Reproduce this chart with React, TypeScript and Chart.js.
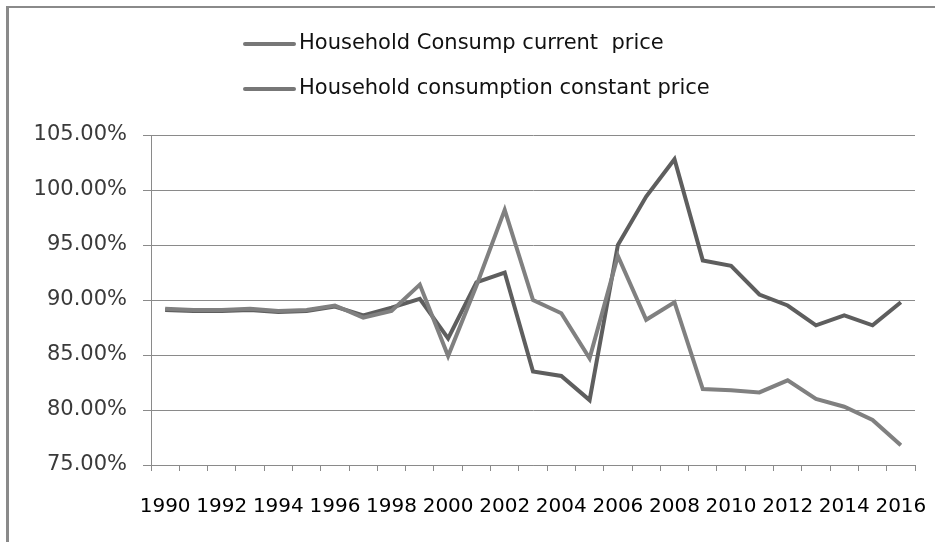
import React, { useEffect, useRef } from "react";
import { Chart, registerables } from "chart.js";

Chart.register(...registerables);

const years: string[] = [
  "1990", "1991", "1992", "1993", "1994", "1995", "1996", "1997", "1998", "1999",
  "2000", "2001", "2002", "2003", "2004", "2005", "2006", "2007", "2008", "2009",
  "2010", "2011", "2012", "2013", "2014", "2015", "2016",
];

const currentPrice: number[] = [
  89.2, 89.1, 89.1, 89.2, 89.0, 89.1, 89.5, 88.4, 89.0, 91.4,
  84.9, 91.3, 98.2, 90.0, 88.8, 84.7, 94.0, 88.2, 89.8, 81.9,
  81.8, 81.6, 82.7, 81.0, 80.3, 79.1, 76.8,
];

const constantPrice: number[] = [
  89.1, 89.0, 89.0, 89.1, 88.9, 89.0, 89.4, 88.6, 89.3, 90.1,
  86.5, 91.6, 92.5, 83.5, 83.1, 80.9, 95.0, 99.4, 102.8, 93.6,
  93.1, 90.5, 89.5, 87.7, 88.6, 87.7, 89.8,
];

const seriesLabels: string[] = [
  "Household Consump current  price",
  "Household consumption constant price",
];

const yTicks = { min: 75, max: 105, step: 5 };

const FONT = '"DejaVu Sans", "Liberation Sans", sans-serif';

const framePlugin = {
  id: "frame",
  beforeDraw(chart: any) {
    const { ctx, width, height } = chart;
    ctx.save();
    ctx.fillStyle = "#ffffff";
    ctx.fillRect(0, 0, width, height);
    ctx.fillStyle = "#8a8a8a";
    ctx.fillRect(6, 6, 3, height - 6);
    ctx.fillRect(6, 6, width - 6, 2);
    ctx.restore();
  },
};

const legendPlugin = {
  id: "stackedLegend",
  afterDraw(chart: any) {
    const ctx = chart.ctx;
    const rows = [44, 89];
    ctx.save();
    chart.data.datasets.forEach((ds: any, i: number) => {
      const y = rows[i];
      ctx.strokeStyle = "#777777";
      ctx.lineWidth = 4;
      ctx.lineCap = "round";
      ctx.beginPath();
      ctx.moveTo(245, y);
      ctx.lineTo(294, y);
      ctx.stroke();
      ctx.fillStyle = "#111111";
      ctx.font = `21px ${FONT}`;
      ctx.textBaseline = "middle";
      ctx.textAlign = "left";
      ctx.fillText(ds.label, 299, y);
    });
    ctx.restore();
  },
};

export default function App() {
  const ref = useRef<HTMLCanvasElement | null>(null);

  useEffect(() => {
    if (!ref.current) return;
    const chart = new Chart(ref.current, {
      type: "line",
      data: {
        labels: years,
        datasets: [
          {
            label: seriesLabels[0],
            data: currentPrice,
            borderColor: "#808080",
            borderWidth: 4,
            pointRadius: 0,
            tension: 0,
          },
          {
            label: seriesLabels[1],
            data: constantPrice,
            borderColor: "#5e5e5e",
            borderWidth: 4,
            pointRadius: 0,
            tension: 0,
          },
        ],
      },
      options: {
        responsive: false,
        animation: false,
        layout: { padding: { top: 135, right: 20, bottom: 0, left: 0 } },
        plugins: {
          legend: { display: false },
          tooltip: { enabled: false },
        },
        scales: {
          x: {
            type: "category",
            offset: true,
            grid: {
              offset: true,
              drawOnChartArea: false,
              tickLength: 6,
              color: "#8a8a8a",
            },
            border: { color: "#8a8a8a" },
            ticks: {
              autoSkip: false,
              maxRotation: 0,
              minRotation: 0,
              padding: 24,
              color: "#000000",
              font: { family: FONT, size: 20 },
              callback: (_v: any, i: number) => (i % 2 === 0 ? years[i] : ""),
            },
            afterFit: (scale: any) => {
              scale.height = 77;
              scale.paddingLeft = 0;
              scale.paddingRight = 0;
            },
          },
          y: {
            min: yTicks.min,
            max: yTicks.max,
            grid: { color: "#8a8a8a", tickLength: 8 },
            border: { color: "#8a8a8a" },
            ticks: {
              stepSize: yTicks.step,
              padding: 16,
              color: "#3a3a3a",
              font: { family: FONT, size: 21 },
              callback: (v: any) => Number(v).toFixed(2) + "%",
            },
            afterFit: (scale: any) => {
              scale.width = 151;
            },
          },
        },
      },
      plugins: [framePlugin, legendPlugin],
    });
    return () => chart.destroy();
  }, []);

  return (
    <div style={{ position: "fixed", top: 0, left: 0, width: 935, height: 542 }}>
      <canvas ref={ref} width={935} height={542} style={{ display: "block" }} />
    </div>
  );
}
